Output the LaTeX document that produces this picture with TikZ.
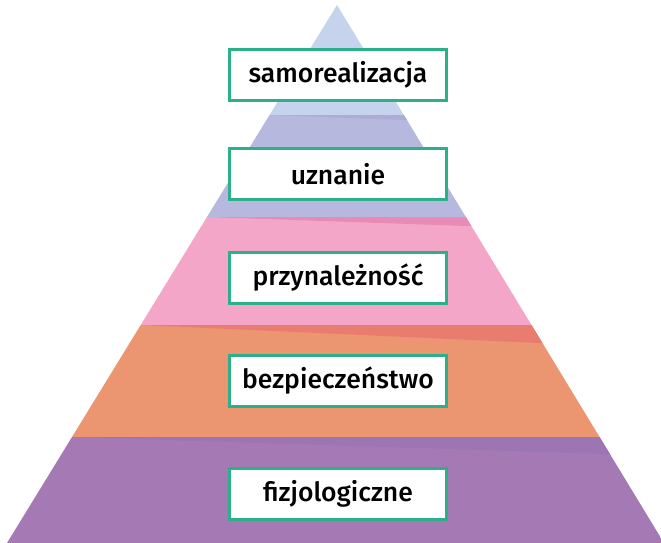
\documentclass[tikz,border=0pt]{standalone}
\usepackage{fontspec}
\setmainfont{Fira Sans Medium}
\usepackage{xcolor}

\definecolor{topblue}{RGB}{198,211,236}
\definecolor{lavender}{RGB}{182,184,222}
\definecolor{lavenderdark}{RGB}{172,172,214}
\definecolor{pinkband}{RGB}{244,166,201}
\definecolor{pinkdark}{RGB}{232,138,182}
\definecolor{orangeband}{RGB}{235,150,112}
\definecolor{orangedark}{RGB}{232,124,112}
\definecolor{purpleband}{RGB}{165,122,180}
\definecolor{purpledark}{RGB}{155,118,178}
\definecolor{boxgreen}{RGB}{43,176,138}

\begin{document}
\begin{tikzpicture}[x=1pt,y=-1pt,
  levelbox/.style={draw=boxgreen,line width=3pt,fill=white,minimum width=217pt,minimum height=51pt,inner sep=0pt,font=\fontsize{26.5}{30}\selectfont}]

\useasboundingbox (0,0) rectangle (661,543);

% pyramid
\coordinate (Apex) at (337,5);
\coordinate (BaseLeft) at (7,543);
\coordinate (BaseRight) at (664,543);

\begin{scope}
\clip (Apex) -- (BaseLeft) -- (BaseRight) -- cycle;

\fill[topblue] (0,0) rectangle (670,115);

% 2
\fill[lavender] (0,115) rectangle (670,217);
\fill[lavenderdark] (270,115) -- (670,115) -- (670,130) -- cycle;

% 3
\fill[pinkband] (0,217) rectangle (670,325);
\fill[pinkdark] (207,217) -- (670,217) -- (670,233) -- cycle;

% 4
\fill[orangeband] (0,325) rectangle (670,437);
\fill[orangedark] (141,325) -- (670,325) -- (670,349) -- cycle;

% 5
\fill[purpleband] (0,437) rectangle (670,545);
\fill[purpledark] (72,437) -- (670,437) -- (670,456) -- cycle;
\end{scope}

% levels
\node[levelbox] (Selfrealization) at (338,75) {samorealizacja};
\node[levelbox] (Esteem) at (338,174) {uznanie};
\node[levelbox] (Belonging) at (338,278) {przynależność};
\node[levelbox] (Safety) at (338,381) {bezpieczeństwo};
\node[levelbox] (Physiological) at (338,494) {fizjologiczne};

\end{tikzpicture}
\end{document}
